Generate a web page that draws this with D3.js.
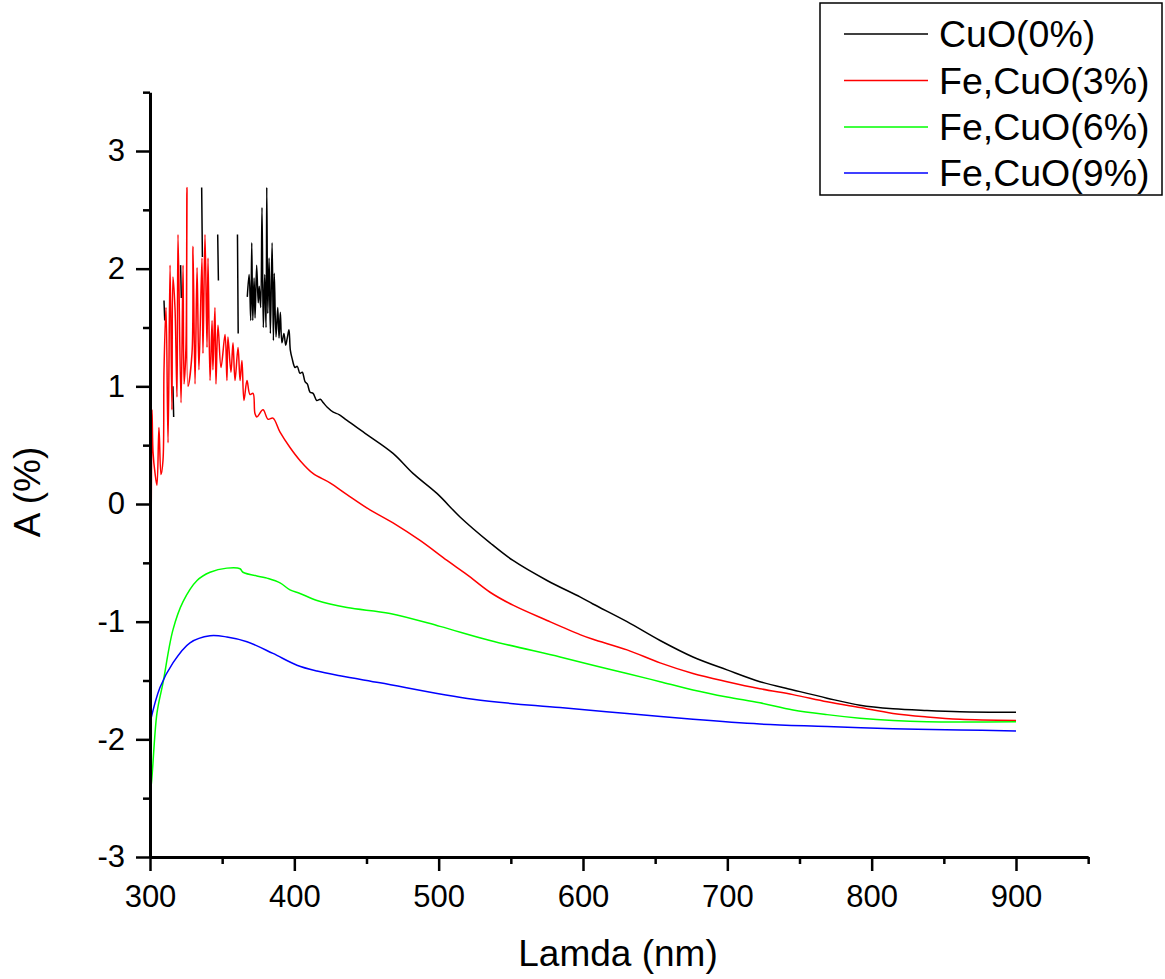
<!DOCTYPE html>
<html>
<head>
<meta charset="utf-8">
<script src="https://cdn.jsdelivr.net/npm/d3@7"></script>
<style>
  html, body { margin: 0; padding: 0; background: #fff; }
  svg { display: block; font-family: "Liberation Sans", Arial, sans-serif; }
</style>
</head>
<body>
<svg id="chart" width="1165" height="979"></svg>
<script>
// ---------------- data ----------------
const seriesNames = ["CuO(0%)", "Fe,CuO(3%)", "Fe,CuO(6%)", "Fe,CuO(9%)"];
const seriesColors = ["#000000", "#ff0000", "#00ff00", "#0000ff"];

const xMajorTicks = [300, 400, 500, 600, 700, 800, 900];
const xMinorTicks = [350, 450, 550, 650, 750, 850, 950];
const yMajorTicks = [-3, -2, -1, 0, 1, 2, 3];
const yMinorTicks = [-2.5, -1.5, -0.5, 0.5, 1.5, 2.5, 3.5];

// CuO(0%) — null marks gaps in the measured trace
const cuoLambda = [309.7, 310.2, 310.5, 315.9, 316.4, 316.7, 321.2, 321.7, 322.0,
  335.8, 336.3, 336.6, 346.9, 347.4, 347.7, 360.6, 361.1, 361.4,
  367.4, 368.7, 369.8, 370.5, 371.2, 372.1, 372.8, 373.9, 375.0, 375.7, 376.7, 377.6,
  378.5, 379.5, 380.4, 380.9, 381.6, 382.5, 383.4, 384.6, 385.5, 386.1, 387.3, 388.5,
  389.4, 390.3, 391.4, 392.8, 394.0, 395.1, 396.3, 397.2, 398.4, 400.5, 402.0, 403.9,
  405.5, 407.4, 409.0, 410.9, 413.0, 415.5, 418.0, 420.1, 423.0, 427.0, 431.0, 436.5,
  450.3, 468.4, 482.2, 498.8, 514.8, 535.6, 551.5, 575.1, 597.9, 606.9, 630.5, 653.4,
  676.2, 699.8, 722.6, 745.5, 769.1, 791.9, 814.8, 838.3, 861.2, 900.0];
const cuoA = [1.73, 1.56, null, 1.00, 0.74, null, 2.03, 1.75, null,
  2.69, 2.10, null, 2.29, 1.90, null, 2.29, 1.45, null,
  1.76, 1.95, 1.56, 2.22, 1.56, 1.92, 1.58, 2.03, 1.71, 1.85, 1.67, 2.52,
  1.50, 1.95, 1.50, 2.69, 1.62, 2.09, 1.45, 2.22, 1.39, 1.96, 1.42, 1.67,
  1.41, 1.63, 1.37, 1.45, 1.35, 1.41, 1.48, 1.31, 1.24, 1.16, 1.17, 1.11,
  1.12, 1.04, 1.02, 0.95, 0.94, 0.88, 0.89, 0.86, 0.82, 0.78, 0.76, 0.71,
  0.59, 0.43, 0.26, 0.09, -0.11, -0.33, -0.48, -0.65, -0.79, -0.85, -1.00, -1.16,
  -1.30, -1.41, -1.51, -1.58, -1.65, -1.71, -1.74, -1.755, -1.765, -1.77];

// Fe,CuO(3%)
const fe3Lambda = [300.3, 300.8, 301.4, 302.1, 303.5, 304.8, 306.2, 307.6, 309.0, 309.7,
  311.1, 312.5, 313.9, 315.2, 315.9, 317.3, 318.7, 319.4, 321.5, 322.9, 323.6, 324.9,
  325.6, 326.3, 329.1, 329.8, 331.2, 332.6, 333.9, 336.0, 336.7, 338.1, 339.5, 340.2,
  341.6, 343.0, 343.6, 345.0, 345.7, 347.1, 349.2, 352.0, 353.3, 354.0, 356.1, 357.5,
  358.9, 361.0, 362.4, 363.7, 365.1, 367.2, 369.3, 371.4, 372.7, 374.1, 378.3, 381.8,
  385.2, 390.1, 397.0, 403.9, 412.9, 424.7, 436.5, 452.4, 468.4, 487.1, 505.8, 519.6,
  535.6, 551.5, 575.1, 597.9, 606.9, 630.5, 653.4, 676.2, 699.8, 722.6, 745.5, 769.1,
  791.9, 814.8, 838.3, 861.2, 900.0];
const fe3A = [-0.48, -0.11, 0.80, 0.44, 0.26, 0.16, 0.65, 0.25, 0.37, 1.14,
  1.67, 0.52, 2.03, 0.80, 1.93, 1.67, 0.91, 2.29, 0.86, 2.03, 1.02, 1.33,
  2.69, 1.00, 1.28, 2.19, 1.02, 2.01, 1.14, 2.09, 1.28, 2.29, 1.33, 2.09,
  1.05, 1.56, 1.14, 1.67, 1.02, 1.52, 1.16, 1.44, 1.05, 1.42, 1.12, 1.37,
  1.05, 1.33, 1.05, 1.22, 0.88, 1.05, 0.93, 0.94, 0.77, 0.74, 0.80, 0.72,
  0.73, 0.61, 0.48, 0.37, 0.26, 0.18, 0.08, -0.05, -0.16, -0.31, -0.48, -0.60,
  -0.75, -0.86, -0.99, -1.11, -1.15, -1.24, -1.35, -1.44, -1.51, -1.57, -1.62, -1.68,
  -1.73, -1.78, -1.81, -1.83, -1.84];

// Fe,CuO(6%)
const fe6Lambda = [300.0, 300.7, 304.8, 309.0, 315.9, 322.9, 332.6, 341.6, 353.3, 362.4,
  364.4, 381.1, 390.1, 397.0, 403.9, 415.7, 436.5, 466.3, 500.9, 535.6, 584.1, 606.9,
  630.5, 653.4, 676.2, 699.8, 722.6, 745.5, 769.1, 791.9, 814.8, 838.3, 900.0];
const fe6A = [-2.43, -2.40, -1.78, -1.52, -1.07, -0.83, -0.65, -0.58, -0.545, -0.55,
  -0.58, -0.63, -0.67, -0.73, -0.76, -0.82, -0.88, -0.93, -1.04, -1.16, -1.30, -1.37,
  -1.44, -1.51, -1.58, -1.64, -1.69, -1.75, -1.79, -1.82, -1.84, -1.85, -1.85];

// Fe,CuO(9%)
const fe9Lambda = [300.0, 306.9, 315.9, 327.7, 341.6, 353.3, 367.2, 385.2, 401.8, 415.7,
  431.6, 459.4, 523.8, 584.1, 630.5, 676.2, 722.6, 769.1, 814.8, 861.2, 900.0];
const fe9A = [-1.86, -1.56, -1.35, -1.18, -1.12, -1.13, -1.17, -1.27, -1.37, -1.42,
  -1.46, -1.52, -1.66, -1.73, -1.78, -1.83, -1.87, -1.89, -1.91, -1.92, -1.93];

const allLambda = [cuoLambda, fe3Lambda, fe6Lambda, fe9Lambda];
const allA = [cuoA, fe3A, fe6A, fe9A];

// ---------------- chart ----------------
const svg = d3.select("#chart");
const x = d3.scaleLinear().domain([300, 950]).range([150, 150 + 650 * (866 / 600)]);
const y = d3.scaleLinear().domain([-3, 3.5]).range([857, 857 - 6.5 * (706 / 6)]);

// series
const line = d3.line()
  .defined(d => d[1] !== null)
  .x(d => x(d[0]))
  .y(d => y(d[1]))
  .curve(d3.curveCatmullRom.alpha(0.5));

allLambda.forEach((lam, i) => {
  const pts = lam.map((l, j) => [l, allA[i][j]]);
  svg.append("path")
    .attr("d", line(pts))
    .attr("fill", "none")
    .attr("stroke", seriesColors[i])
    .attr("stroke-width", 1.5)
    .attr("stroke-linejoin", "round");
});

// axes
const fontSize = 31;
const fmt = d => String(d);
const xAxisG = svg.append("g").attr("transform", `translate(0,${y(-3)})`);
xAxisG.call(d3.axisBottom(x).tickValues(xMinorTicks).tickSize(7).tickSizeOuter(0).tickFormat(""));
xAxisG.call(g => g.select(".domain").remove());
svg.append("g").attr("transform", `translate(0,${y(-3)})`)
  .call(d3.axisBottom(x).tickValues(xMajorTicks).tickSize(14).tickSizeOuter(0).tickPadding(14).tickFormat(fmt));

const yAxisG = svg.append("g").attr("transform", `translate(${x(300)},0)`);
yAxisG.call(d3.axisLeft(y).tickValues(yMinorTicks).tickSize(7).tickSizeOuter(0).tickFormat(""));
yAxisG.call(g => g.select(".domain").remove());
svg.append("g").attr("transform", `translate(${x(300)},0)`)
  .call(d3.axisLeft(y).tickValues(yMajorTicks).tickSize(14).tickSizeOuter(0).tickPadding(11).tickFormat(fmt));

svg.selectAll(".tick line").attr("stroke", "#000").attr("stroke-width", 2.5);
svg.selectAll(".tick text").attr("font-size", fontSize).attr("fill", "#000")
  .attr("font-family", "'Liberation Sans', Arial, sans-serif");
svg.selectAll(".domain").attr("stroke", "#000").attr("stroke-width", 3);

// axis titles
svg.append("text")
  .attr("x", 618).attr("y", 966)
  .attr("text-anchor", "middle")
  .attr("font-size", 37)
  .text("Lamda (nm)");
svg.append("text")
  .attr("transform", "translate(40,492) rotate(-90)")
  .attr("text-anchor", "middle")
  .attr("font-size", 37)
  .text("A (%)");

// legend
const lg = svg.append("g");
lg.append("rect")
  .attr("x", 820).attr("y", 3).attr("width", 342).attr("height", 192)
  .attr("fill", "#fff").attr("stroke", "#000").attr("stroke-width", 1.5);
const rowY = [34, 80.5, 127, 173];
seriesNames.forEach((name, i) => {
  lg.append("line")
    .attr("x1", 844).attr("x2", 928)
    .attr("y1", rowY[i]).attr("y2", rowY[i])
    .attr("stroke", seriesColors[i]).attr("stroke-width", 1.5);
  lg.append("text")
    .attr("x", 939).attr("y", rowY[i] + 13)
    .attr("font-size", 37.5)
    .text(name);
});
</script>
</body>
</html>
